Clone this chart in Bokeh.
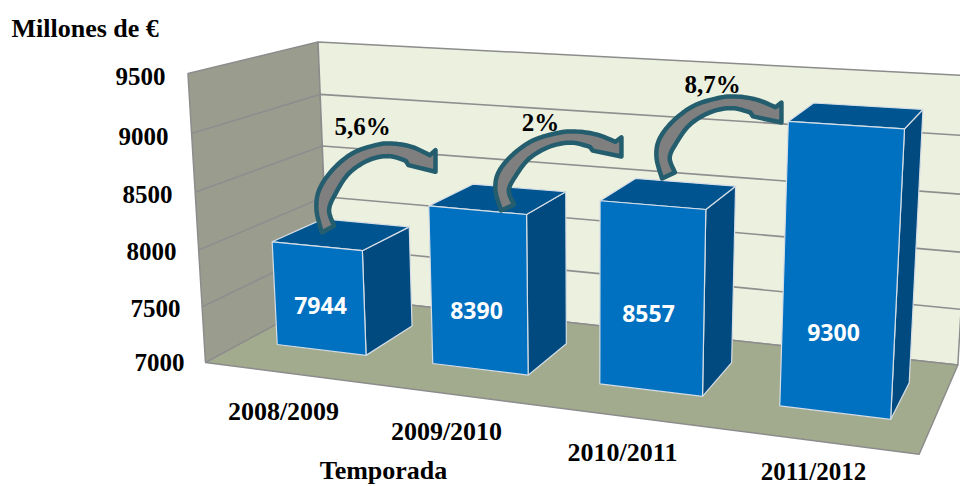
from bokeh.plotting import figure
from bokeh.models import Range1d
from bokeh.core.properties import value
from bokeh.embed import file_html
from bokeh.resources import INLINE
import numpy as np

seasons = ["2008/2009", "2009/2010", "2010/2011", "2011/2012"]
revenue = [7944, 8390, 8557, 9300]
y_ticks = [7000, 7500, 8000, 8500, 9000, 9500]
y_tick_labels = ["7000", "7500", "8000", "8500", "9000", "9500"]
growth = ["5,6%", "2%", "8,7%"]
title_y = "Millones de €"
title_x = "Temporada"

# projection of the 3D box (u along categories, v value axis, w depth) to the page
CAL = [((0,0,0),(206,362)),((0,1,0),(187,72)),((0,0,1),(327,296)),((0,1,1),(318,42)),
       ((1,0,1),(958,363)),((1,1,1),(974,76)),((1,0,0),(918,455))]
A=[];b=[]
for (u,v,w),(px,py) in CAL:
    A.append([u,v,w,1,0,0,0,0,-px*u,-px*v,-px*w]); b.append(px)
    A.append([0,0,0,0,u,v,w,1,-py*u,-py*v,-py*w]); b.append(py)
M=np.linalg.lstsq(np.array(A,float),np.array(b,float),rcond=None)[0]
M=np.append(M,1).reshape(3,4)
def proj(u,v,w):
    h=M@np.array([u,v,w,1.0])
    return (h[0]/h[2],h[1]/h[2])
VMIN,VMAX=y_ticks[0],y_ticks[-1]
def vn(val): return (val-VMIN)/(VMAX-VMIN)

p=figure(width=960,height=486,x_range=Range1d(0,960),y_range=Range1d(486,0),
         output_backend="svg",toolbar_location=None,min_border=0,
         background_fill_color="white",border_fill_color="white",outline_line_color=None)
p.axis.visible=False; p.grid.visible=False

def quad(pts,fill,line=None,lw=1.0):
    xs,ys=zip(*[proj(*q) for q in pts])
    p.patch(list(xs),list(ys),fill_color=fill,line_color=line or fill,line_width=lw)

EDGE="#8c8c8c"
quad([(0,0,0),(0,1,0),(0,1,1),(0,0,1)],"#9a9c8e",EDGE,1.5)
quad([(0,0,1),(0,1,1),(1,1,1),(1,0,1)],"#ebf0df",EDGE,1.5)
quad([(0,0,0),(0,0,1),(1,0,1),(1,0,0)],"#a3ab8e",EDGE,1.5)
for t in y_ticks[1:-1]:
    v=vn(t)
    a,b_,c=proj(0,v,0),proj(0,v,1),proj(1,v,1)
    p.line([a[0],b_[0],c[0]],[a[1],b_[1],c[1]],line_color="#8e8e8e",line_width=1.6)

# bars
HALF=0.0725; W0=0.3; W1=0.72
val_pos=[(320,305),(476,310),(648,313),(833,332)]
for i,val in enumerate(revenue):
    c=(i+.5)/len(revenue)
    l,r=c-HALF,c+HALF
    h=vn(val)
    quad([(r,0,W0),(r,h,W0),(r,h,W1),(r,0,W1)],"#004a80","#d5dde5",1.2)
    quad([(l,h,W0),(l,h,W1),(r,h,W1),(r,h,W0)],"#005591","#d5dde5",1.2)
    quad([(l,0,W0),(l,h,W0),(r,h,W0),(r,0,W0)],"#0070c0","#d5dde5",1.2)
    p.text([val_pos[i][0]],[val_pos[i][1]],text=[str(val)],text_color="white",text_font=value("Open Sans"),
           text_font_style="bold",text_font_size="23px",text_align="center",text_baseline="middle")

# arrows
def cr(P,n=8):
    P=np.array(P,float); P=np.vstack([P[0],P,P[-1]]); out=[]
    for i in range(1,len(P)-2):
        for t in np.linspace(0,1,n,endpoint=False):
            out.append(.5*((2*P[i])+(-P[i-1]+P[i+1])*t+(2*P[i-1]-5*P[i]+4*P[i+1]-P[i+2])*t*t+(-P[i-1]+3*P[i]-3*P[i+1]+P[i+2])*t**3))
    out.append(P[-2]); return np.array(out)
outer=[(418,608),(402,540),(410,480),(450,420),(510,370),(580,345),(630,340),(690,350),(745,375)]
inner=[(672,392),(620,378),(560,390),(500,430),(460,490),(440,540),(455,588)]
o=cr(outer); n=cr(inner)
head=np.array([(762,360),(762,425),(680,405)],float)
shape=np.vstack([o,head,n])
sx=(shape[:,0]-402)/(765-402); sy=(shape[:,1]-340)/(608-340)
boxes=[(316,143,436,232),(495,131,622,210),(656,96,782,178)]
for x0,y0,x1,y1 in boxes:
    p.patch(list(x0+sx*(x1-x0)),list(y0+sy*(y1-y0)),fill_color="#7f7f7f",line_color="#245e6e",line_width=4.5,line_join="round")

SERIF=value("Liberation Serif")
def label(x,y,t,size="26px",align="center"):
    p.text([x],[y],text=[t],text_color="black",text_font=SERIF,text_font_style="bold",
           text_font_size=size,text_align=align,text_baseline="middle")
label(11,28,title_y,"26px","left")
label(383,470,title_x,"26px")
for i,t in enumerate(y_tick_labels):
    pos=[(159,362),(155,308),(151,251),(147,194),(143,136),(140,76)][i]
    label(pos[0],pos[1],t,"25px")
for t,(x,y,s) in zip(seasons,[(283,411,"26px"),(446,431,"26px"),(622,452,"26px"),(813,471,"25px")]):
    label(x,y,t,s)
for t,(x,y) in zip(growth,[(362,126),(540,122),(712,84)]):
    label(x,y,t,"25px")

open("out.html","w").write(file_html(p,INLINE))
